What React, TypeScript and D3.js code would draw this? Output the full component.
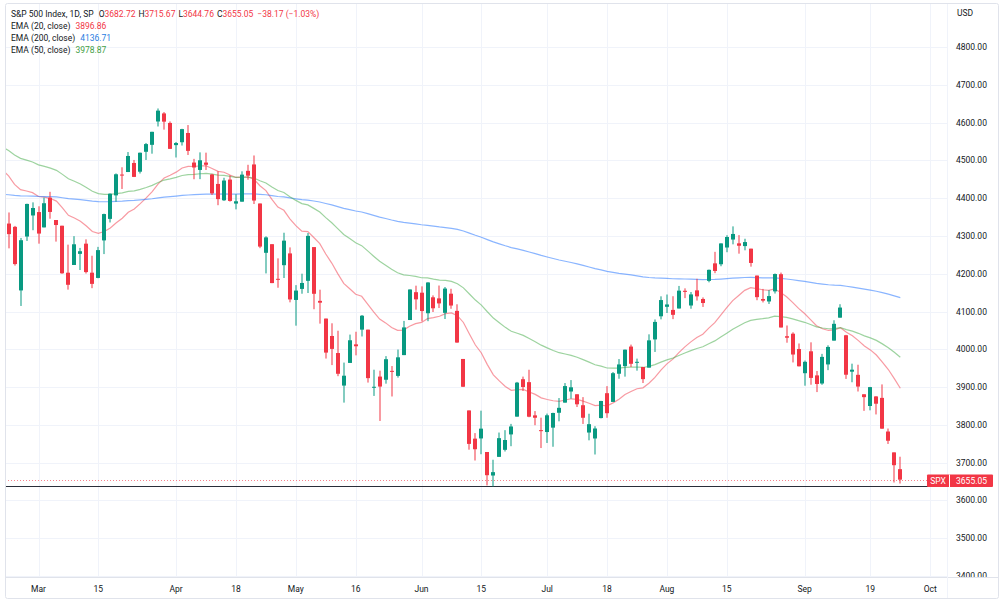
import React, { useEffect } from "react";
import * as d3 from "d3";

// ---- Data (S&P 500 daily candles) ----
const dates = [
  "2022-02-18","2022-02-22","2022-02-23","2022-02-24","2022-02-25","2022-02-28",
  "2022-03-01","2022-03-02","2022-03-03","2022-03-04","2022-03-07","2022-03-08","2022-03-09","2022-03-10","2022-03-11",
  "2022-03-14","2022-03-15","2022-03-16","2022-03-17","2022-03-18","2022-03-21","2022-03-22","2022-03-23","2022-03-24",
  "2022-03-25","2022-03-28","2022-03-29","2022-03-30","2022-03-31",
  "2022-04-01","2022-04-04","2022-04-05","2022-04-06","2022-04-07","2022-04-08","2022-04-11","2022-04-12","2022-04-13",
  "2022-04-14","2022-04-18","2022-04-19","2022-04-20","2022-04-21","2022-04-22","2022-04-25","2022-04-26","2022-04-27",
  "2022-04-28","2022-04-29",
  "2022-05-02","2022-05-03","2022-05-04","2022-05-05","2022-05-06","2022-05-09","2022-05-10","2022-05-11","2022-05-12",
  "2022-05-13","2022-05-16","2022-05-17","2022-05-18","2022-05-19","2022-05-20","2022-05-23","2022-05-24","2022-05-25",
  "2022-05-26","2022-05-27","2022-05-31",
  "2022-06-01","2022-06-02","2022-06-03","2022-06-06","2022-06-07","2022-06-08","2022-06-09","2022-06-10","2022-06-13",
  "2022-06-14","2022-06-15","2022-06-16","2022-06-17","2022-06-21","2022-06-22","2022-06-23","2022-06-24","2022-06-27",
  "2022-06-28","2022-06-29","2022-06-30",
  "2022-07-01","2022-07-05","2022-07-06","2022-07-07","2022-07-08","2022-07-11","2022-07-12","2022-07-13","2022-07-14",
  "2022-07-15","2022-07-18","2022-07-19","2022-07-20","2022-07-21","2022-07-22","2022-07-25","2022-07-26","2022-07-27",
  "2022-07-28","2022-07-29",
  "2022-08-01","2022-08-02","2022-08-03","2022-08-04","2022-08-05","2022-08-08","2022-08-09","2022-08-10","2022-08-11",
  "2022-08-12","2022-08-15","2022-08-16","2022-08-17","2022-08-18","2022-08-19","2022-08-22","2022-08-23","2022-08-24",
  "2022-08-25","2022-08-26","2022-08-29","2022-08-30","2022-08-31",
  "2022-09-01","2022-09-02","2022-09-06","2022-09-07","2022-09-08","2022-09-09","2022-09-12","2022-09-13","2022-09-14",
  "2022-09-15","2022-09-16","2022-09-19","2022-09-20","2022-09-21","2022-09-22","2022-09-23","2022-09-26",
];

const opens = [
  4384.57,4332.74,4324.01,4155.77,4298.38,4354.17,
  4363.14,4322.56,4401.31,4342.12,4327.01,4202.66,4223.10,4252.55,4279.50,
  4202.75,4188.82,4288.14,4345.11,4407.34,4462.40,4469.10,4493.10,4469.98,
  4522.66,4541.09,4602.86,4624.20,4599.02,
  4540.32,4547.97,4572.45,4494.17,4474.65,4494.15,4462.64,4437.59,4394.30,
  4449.12,4385.63,4390.63,4472.26,4489.17,4385.83,4255.34,4278.14,4186.52,
  4222.58,4253.75,
  4130.61,4159.78,4181.18,4270.43,4128.17,4081.27,4035.18,3990.08,3903.95,
  3963.90,4013.02,4052.00,4051.98,3899.00,3927.76,3919.42,3942.94,3929.59,
  3984.60,4077.43,4151.09,
  4149.78,4095.41,4137.57,4134.72,4096.47,4147.12,4101.65,3974.39,3838.15,
  3763.52,3764.05,3728.18,3665.90,3715.31,3733.89,3774.71,3821.75,3920.76,
  3913.00,3825.09,3785.99,
  3781.00,3792.61,3831.98,3858.85,3888.26,3880.94,3851.95,3779.67,3763.99,
  3818.00,3883.79,3860.73,3935.32,3955.47,4007.20,3965.72,3953.22,3951.43,
  4026.13,4087.33,
  4112.38,4104.21,4107.96,4154.85,4115.87,4155.93,4133.11,4181.02,4227.40,
  4225.02,4269.37,4290.46,4280.40,4273.13,4266.31,4195.08,4133.09,4126.55,
  4153.26,4198.74,4034.58,4041.25,4000.67,
  3936.73,3994.66,3930.89,3909.43,3959.94,4022.94,4083.67,4037.12,3940.73,
  3932.41,3880.95,3849.91,3875.23,3871.40,3782.36,3727.14,3682.72,
];

const highs = [
  4394.60,4362.12,4326.51,4294.73,4385.34,4388.84,
  4378.45,4401.48,4416.78,4342.12,4327.01,4276.94,4299.40,4268.28,4291.01,
  4247.57,4271.05,4358.90,4412.67,4465.40,4481.75,4522.00,4501.07,4520.58,
  4546.03,4575.65,4637.30,4627.77,4603.07,
  4548.70,4583.50,4593.45,4503.94,4521.16,4520.41,4464.35,4471.00,4453.92,
  4460.46,4410.31,4471.03,4488.29,4512.94,4385.83,4299.02,4278.14,4240.71,
  4308.45,4269.68,
  4169.81,4200.10,4307.66,4270.43,4157.69,4081.27,4068.82,4049.09,3964.80,
  4038.88,4046.46,4090.72,4051.98,3945.96,3943.42,3981.88,3955.68,3999.33,
  4075.14,4158.49,4168.34,
  4166.54,4177.51,4142.67,4168.78,4164.86,4160.14,4119.10,3974.39,3838.15,
  3778.18,3837.56,3728.18,3707.71,3779.65,3785.99,3802.58,3913.65,3927.72,
  3945.86,3836.50,3818.99,
  3829.82,3832.19,3870.91,3910.63,3918.50,3880.94,3873.41,3829.44,3796.41,
  3863.62,3902.44,3939.81,3974.13,3999.29,4012.44,3975.30,3953.22,4039.56,
  4078.95,4140.15,
  4144.95,4140.47,4167.66,4161.29,4151.58,4186.62,4137.30,4211.03,4257.91,
  4280.47,4301.79,4325.28,4302.18,4292.53,4266.31,4195.08,4159.77,4156.56,
  4200.54,4203.04,4062.99,4044.98,4015.37,
  3970.23,4018.43,3942.55,3987.89,4010.50,4076.81,4119.28,4038.20,3961.94,
  3959.14,3880.95,3900.45,3876.01,3907.07,3790.28,3727.14,3715.67,
];

const lows = [
  4327.22,4267.11,4221.55,4114.65,4286.83,4315.12,
  4279.54,4322.56,4345.56,4284.98,4199.85,4157.87,4223.10,4209.80,4200.49,
  4161.72,4187.90,4251.99,4335.65,4390.57,4424.30,4469.10,4455.81,4465.17,
  4501.07,4517.69,4589.66,4581.32,4530.41,
  4507.57,4539.21,4514.17,4450.04,4450.30,4474.60,4408.38,4381.34,4392.70,
  4390.77,4370.30,4390.63,4448.76,4384.47,4267.62,4200.82,4175.04,4162.90,
  4188.63,4124.28,
  4062.51,4147.08,4148.91,4106.01,4067.91,3975.48,3958.17,3928.82,3858.87,
  3963.90,3983.99,4033.93,3911.91,3876.58,3810.32,3909.04,3875.13,3925.03,
  3984.60,4077.43,4104.88,
  4073.85,4074.37,4098.67,4109.18,4080.19,4107.20,4017.17,3900.16,3734.30,
  3705.68,3722.30,3639.77,3636.87,3715.31,3729.51,3743.52,3821.75,3889.66,
  3820.14,3799.02,3738.67,
  3752.10,3742.06,3809.37,3858.85,3869.34,3847.22,3802.36,3759.07,3721.56,
  3817.18,3818.63,3860.73,3922.03,3927.64,3953.17,3943.46,3910.74,3951.43,
  3992.97,4079.22,
  4096.02,4079.81,4107.96,4135.42,4107.31,4128.97,4112.09,4177.26,4201.41,
  4219.78,4256.90,4277.77,4253.08,4261.98,4218.70,4129.86,4124.03,4119.97,
  4147.59,4057.66,4017.42,3965.21,3954.53,
  3903.65,3906.21,3886.75,3906.03,3944.81,4022.94,4083.67,3921.58,3912.75,
  3888.28,3837.08,3838.50,3827.54,3789.49,3749.45,3647.47,3644.76,
];

const closes = [
  4348.87,4304.76,4225.50,4288.70,4384.65,4373.94,
  4306.26,4386.54,4363.49,4328.87,4201.09,4170.70,4277.88,4259.52,4204.31,
  4173.11,4262.45,4357.86,4411.67,4463.12,4461.18,4511.61,4456.24,4520.16,
  4543.06,4575.52,4631.60,4602.45,4530.41,
  4545.86,4582.64,4525.12,4481.15,4500.21,4488.28,4412.53,4397.45,4446.59,
  4392.59,4391.69,4462.21,4459.45,4393.66,4271.78,4296.12,4175.20,4183.96,
  4287.50,4131.93,
  4155.38,4175.48,4300.17,4146.87,4123.34,3991.24,4001.05,3935.18,3930.08,
  4023.89,4008.01,4088.85,3923.68,3900.79,3901.36,3973.75,3941.48,3978.73,
  4057.84,4158.24,4132.15,
  4101.23,4176.82,4108.54,4121.43,4160.68,4115.77,4017.82,3900.86,3749.63,
  3735.48,3789.99,3666.77,3674.84,3764.79,3759.89,3795.73,3911.74,3900.11,
  3821.55,3818.83,3785.38,
  3825.33,3831.39,3845.08,3902.62,3899.38,3854.43,3818.80,3801.78,3790.38,
  3863.16,3830.85,3936.69,3959.90,3998.95,3961.63,3966.84,3921.05,4023.61,
  4072.43,4130.29,
  4118.63,4091.19,4155.17,4151.94,4145.19,4140.06,4122.47,4210.24,4207.27,
  4280.15,4297.14,4305.20,4274.04,4283.74,4228.48,4137.99,4128.73,4140.77,
  4199.12,4057.66,4030.61,3986.16,3955.00,
  3966.85,3924.26,3908.19,3979.87,4006.18,4067.36,4110.41,3932.69,3946.01,
  3901.35,3873.33,3899.89,3855.93,3789.93,3757.99,3693.23,3655.05,
];

// future trading days (for the "Oct" axis label)
const futureDates = ["2022-09-27", "2022-09-28", "2022-09-29", "2022-09-30", "2022-10-03"];

const priceTicks = [4800, 4700, 4600, 4500, 4400, 4300, 4200, 4100, 4000, 3900, 3800, 3700, 3600, 3500, 3400];
const timeTickDates = [
  "2022-03-01", "2022-03-15", "2022-04-01", "2022-04-18", "2022-05-02", "2022-05-16", "2022-06-01", "2022-06-15",
  "2022-07-01", "2022-07-18", "2022-08-01", "2022-08-15", "2022-09-01", "2022-09-19", "2022-10-03",
];
const timeTickLabels = ["Mar", "15", "Apr", "18", "May", "16", "Jun", "15", "Jul", "18", "Aug", "15", "Sep", "19", "Oct"];

// Legend header
const legendTitle = "S&P 500 Index, 1D, SP";
const legendChange = "\u221238.17 (\u22121.03%)";

// EMA indicators: periods, value at the first visible bar, legend values
const emaPeriods = [20, 200, 50];
const emaSeeds = [4475, 4410, 4535];
const emaLabels = ["EMA (20, close)", "EMA (200, close)", "EMA (50, close)"];
const emaLegendValues = ["3896.86", "4136.71", "3978.87"];
const emaLineColors = ["rgba(242,54,69,0.5)", "rgba(41,121,255,0.55)", "rgba(76,175,80,0.55)"];
const emaTextColors = ["#f23645", "#2a7de1", "#43a047"];

const supportLevel = 3636.87;
const lastPrice = 3655.05;

const FONT = "Roboto, 'Liberation Sans', sans-serif";
const TXT = "#131722";
const UP = "#089981";
const DOWN = "#f23645";

export default function App() {
  useEffect(() => {
    document.body.style.margin = "0";
  }, []);

  const W = 1000, H = 602;
  const paneL = 5, paneR = 947, paneT = 3, paneB = 577;

  const allDates = dates.concat(futureDates);
  const idx = (d: string) => allDates.indexOf(d);

  const x = d3.scaleLinear()
    .domain([idx("2022-03-01"), idx("2022-09-26")])
    .range([38.5, 900.3]);
  const y = d3.scaleLinear().domain([3400, 4800]).range([576, 47]);

  const emas = emaPeriods.map((p, k) => {
    const a = 2 / (p + 1);
    let e = emaSeeds[k];
    return closes.map((c, i) => {
      if (i > 0) e = a * c + (1 - a) * e;
      return e;
    });
  });

  const line = d3.line<number>()
    .x((_, i) => x(i))
    .y((v) => y(v))
    .curve(d3.curveLinear);

  const bw = 4;
  const lastY = Math.round(y(lastPrice)) + 0.5;
  const supY = Math.round(y(supportLevel)) + 0.5;
  const n = closes.length - 1;

  return (
    <svg
      width={W}
      height={H}
      style={{ position: "absolute", left: 0, top: 0, display: "block", background: "#fff" }}
      fontFamily={FONT}
    >
      <defs>
        <clipPath id="pane">
          <rect x={paneL} y={paneT} width={paneR - paneL} height={paneB - paneT} />
        </clipPath>
        <clipPath id="paxis">
          <rect x={paneR} y={paneT} width={W - paneR} height={paneB - paneT} />
        </clipPath>
      </defs>
      <rect x={0} y={0} width={W} height={H} fill="#fff" />

      {/* grid */}
      <g clipPath="url(#pane)">
        {priceTicks.map((p) => (
          <line key={"h" + p} x1={paneL} x2={paneR} y1={Math.round(y(p)) + 0.5} y2={Math.round(y(p)) + 0.5} stroke="#f0f3fa" strokeWidth={1} />
        ))}
        {timeTickDates.map((d) => (
          <line key={"v" + d} x1={Math.round(x(idx(d))) + 0.5} x2={Math.round(x(idx(d))) + 0.5} y1={paneT} y2={paneB} stroke="#f0f3fa" strokeWidth={1} />
        ))}
      </g>

      <g clipPath="url(#pane)">
        {/* EMA lines */}
        {emas.map((e, k) => (
          <path key={"ema" + k} d={line(e) || ""} fill="none" stroke={emaLineColors[k]} strokeWidth={1.2} />
        ))}

        {/* support line at June low */}
        <line x1={paneL} x2={paneR} y1={supY} y2={supY} stroke="#2a2e39" strokeWidth={1.2} />

        {/* last price dotted line */}
        <line x1={paneL} x2={927} y1={lastY} y2={lastY} stroke="#f7848d" strokeWidth={1} strokeDasharray="1,2" />

        {/* candles */}
        {dates.map((d, i) => {
          const o = opens[i], h = highs[i], l = lows[i], c = closes[i];
          const col = c >= o ? UP : DOWN;
          const cx = x(i);
          const bx = Math.round(cx - bw / 2);
          const top = Math.min(y(o), y(c));
          const bh = Math.max(1, Math.abs(y(o) - y(c)));
          return (
            <g key={d}>
              <rect x={bx + 1.5} y={y(h)} width={1} height={Math.max(1, y(l) - y(h))} fill={col} />
              <rect x={bx} y={top} width={bw} height={bh} fill={col} />
            </g>
          );
        })}
      </g>

      {/* axis borders */}
      <line x1={paneL} x2={W - 1} y1={paneB + 0.5} y2={paneB + 0.5} stroke="#e0e3eb" />
      <line x1={paneR + 0.5} x2={paneR + 0.5} y1={paneT} y2={H - 3} stroke="#f0f3fa" />
      <rect x={paneL + 0.5} y={paneT + 0.5} width={W - paneL - 2} height={H - paneT - 4} fill="none" stroke="#e0e3eb" rx={2} />

      {/* price axis */}
      <text x={957} y={16} fontSize={8.5} fill={TXT}>USD</text>
      <g clipPath="url(#paxis)">
        {priceTicks.map((p) => (
          <text key={"pt" + p} x={956} y={y(p) + 3} fontSize={8.5} fill={TXT}>
            {p.toFixed(2)}
          </text>
        ))}
      </g>

      {/* last price label */}
      <rect x={927} y={474.5} width={66} height={12.5} fill={DOWN} rx={1} />
      <line x1={949.5} x2={949.5} y1={474.5} y2={487} stroke="#fff" strokeWidth={1} />
      <text x={938} y={484} fontSize={8.5} fill="#fff" textAnchor="middle">SPX</text>
      <text x={971.5} y={484} fontSize={8.5} fill="#fff" textAnchor="middle">{lastPrice.toFixed(2)}</text>

      {/* time axis */}
      {timeTickDates.map((d, k) => (
        <text key={"tt" + d} x={x(idx(d))} y={592} fontSize={8.5} fill={TXT} textAnchor="middle">
          {timeTickLabels[k]}
        </text>
      ))}

      {/* legend */}
      <text x={11} y={17.3} fontSize={8.5} fill={TXT}>
        <tspan>{legendTitle}</tspan>
        <tspan dx={5}>O</tspan>
        <tspan fill={DOWN}>{opens[n].toFixed(2)}</tspan>
        <tspan dx={3}>H</tspan>
        <tspan fill={DOWN}>{highs[n].toFixed(2)}</tspan>
        <tspan dx={3}>L</tspan>
        <tspan fill={DOWN}>{lows[n].toFixed(2)}</tspan>
        <tspan dx={3}>C</tspan>
        <tspan fill={DOWN}>{closes[n].toFixed(2)}</tspan>
        <tspan dx={4} fill={DOWN}>{legendChange}</tspan>
      </text>
      {emaLabels.map((lab, k) => (
        <text key={"lg" + k} x={11} y={29.3 + k * 12} fontSize={8.5} fill={TXT}>
          <tspan>{lab}</tspan>
          <tspan dx={5} fill={emaTextColors[k]}>{emaLegendValues[k]}</tspan>
        </text>
      ))}
    </svg>
  );
}
